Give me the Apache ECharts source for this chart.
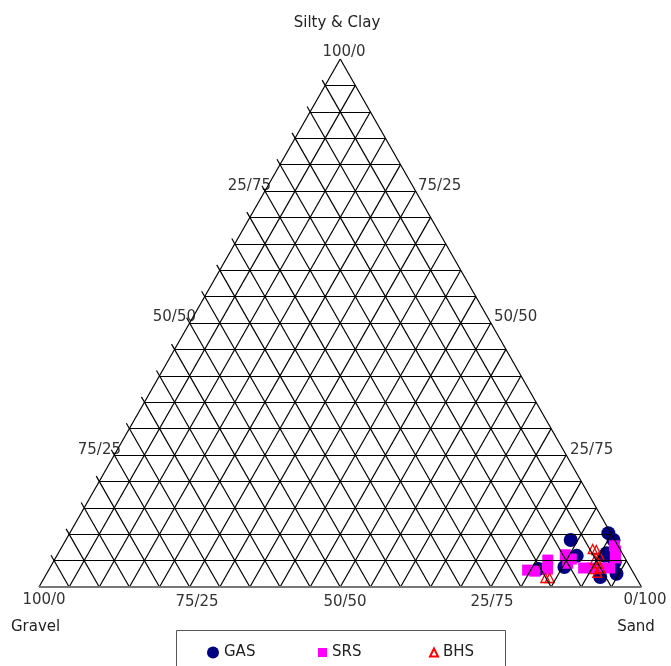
<!DOCTYPE html>
<html>
<head>
<meta charset="utf-8">
<script src="https://cdn.jsdelivr.net/npm/echarts@6/dist/echarts.min.js"></script>
<style>
  html, body { margin: 0; padding: 0; background: #fff; }
  #chart { width: 671px; height: 666px; }
</style>
</head>
<body>
<div id="chart"></div>
<script>
// 各点：[Gravel, Silty & Clay, Sand] (%)
const gasData = [
    [0.4, 10.2, 89.4], [0.2, 8.9, 90.9], [2.6, 6.4, 91.0], [2.1, 4.7, 93.2],
    [2.9, 2.5, 94.6], [5.9, 1.9, 92.2], [7.3, 8.9, 83.8], [7.8, 5.9, 86.3],
    [10.9, 3.8, 85.3], [15.4, 3.4, 81.2], [3.2, 5.9, 90.9]
];
const srsData = [
    [17.3, 3.2, 79.5], [16.2, 3.0, 80.8], [13.0, 5.1, 81.9], [13.9, 3.4, 82.7],
    [9.6, 6.1, 84.3], [10.0, 4.5, 85.5], [9.0, 5.3, 85.7], [7.8, 3.6, 88.6],
    [6.3, 3.6, 90.1], [5.0, 3.6, 91.4], [3.5, 3.6, 92.9], [0.9, 6.8, 92.3],
    [1.6, 5.5, 92.9], [0.6, 7.8, 91.6]
];
const bhsData = [
    [15.1, 1.7, 83.2], [14.4, 1.7, 83.9], [4.5, 7.2, 88.3], [4.0, 7.0, 89.0],
    [4.0, 5.9, 90.1], [5.2, 5.1, 89.7], [4.9, 4.5, 90.6], [6.1, 3.4, 90.5],
    [5.0, 3.6, 91.4], [6.0, 2.7, 91.3]
];
const seriesNames = ['GAS', 'SRS', 'BHS'];
const divisions = 20;

// 三角坐标 -> 直角坐标 (0..1)
function toXY(g, s, d) {
    const sum = g + s + d;
    return [(d + s / 2) / sum, s / sum];
}

// 网格线
const gridLines = [];
for (let i = 1; i < divisions; i++) {
    const k = i / divisions;
    // 水平线 (Silty & Clay 常数)
    gridLines.push({ coords: [toXY(1 - k, k, 0), toXY(0, k, 1 - k)] });
    // Sand 常数
    gridLines.push({ coords: [toXY(1 - k, 0, k), toXY(0, 1 - k, k)] });
    // Gravel 常数，稍微伸出左边
    gridLines.push({ coords: [toXY(k, 0, 1 - k), [(-0.01 + (1 - k + 0.01) / 2), 1 - k + 0.01]] });
}
const edgeLines = [
    { coords: [toXY(1, 0, 0), toXY(0, 1, 0)] },
    { coords: [toXY(0, 1, 0), toXY(0, 0, 1)] }
];

const chart = echarts.init(document.getElementById('chart'));

const tickFont = '15px "DejaVu Sans", sans-serif';
const titleFont = '15px "DejaVu Sans", sans-serif';

function txt(text, x, y, align, font, color) {
    return {
        type: 'text',
        x: x,
        y: y,
        silent: true,
        style: {
            text: text,
            font: font || tickFont,
            fill: color || '#333',
            align: align || 'center',
            verticalAlign: 'middle'
        }
    };
}

const legendBase = {
    top: 645,
    padding: 0,
    selectedMode: false,
    textStyle: { color: '#222', fontSize: 15, fontFamily: 'DejaVu Sans' }
};

const option = {
    animation: false,
    grid: { left: 39, right: 29.5, top: 59, bottom: 79 },
    xAxis: { type: 'value', min: 0, max: 1, show: false },
    yAxis: { type: 'value', min: 0, max: 1, show: false },
    legend: [
        Object.assign({}, legendBase, { data: ['GAS'], left: 207, itemWidth: 12, itemHeight: 12 }),
        Object.assign({}, legendBase, { data: ['SRS'], left: 318, itemWidth: 9, itemHeight: 9 }),
        Object.assign({}, legendBase, { data: ['BHS'], left: 429, itemWidth: 8, itemHeight: 8 })
    ],
    graphic: [
        txt('Silty & Clay', 337, 23, 'center', titleFont, '#222'),
        txt('Gravel', 11, 627, 'left', titleFont, '#222'),
        txt('Sand', 636, 627, 'center', titleFont, '#222'),
        txt('100/0', 344, 52),
        txt('25/75', 271, 186, 'right'),
        txt('50/50', 196, 317, 'right'),
        txt('75/25', 121, 450, 'right'),
        txt('75/25', 418, 186, 'left'),
        txt('50/50', 494, 317, 'left'),
        txt('25/75', 570, 450, 'left'),
        txt('100/0', 44, 600),
        txt('75/25', 197, 602),
        txt('50/50', 345, 602),
        txt('25/75', 492, 602),
        txt('0/100', 645, 600),
        {
            type: 'rect',
            silent: true,
            shape: { x: 176.5, y: 630.5, width: 329, height: 60 },
            style: { fill: 'none', stroke: '#555', lineWidth: 1 }
        }
    ],
    series: [
        {
            name: 'GAS',
            type: 'scatter',
            symbol: 'circle',
            symbolSize: 14,
            itemStyle: { color: '#000080', opacity: 1 },
            data: gasData.map(p => toXY(p[0], p[1], p[2]))
        },
        {
            name: 'SRS',
            type: 'scatter',
            symbol: 'rect',
            symbolSize: 11,
            itemStyle: { color: '#ff00ff', opacity: 1 },
            data: srsData.map(p => toXY(p[0], p[1], p[2]))
        },
        {
            name: 'BHS',
            type: 'scatter',
            symbol: 'triangle',
            symbolSize: 9,
            itemStyle: { color: 'rgba(255,255,255,0)', borderColor: '#ff0000', borderWidth: 1.3, opacity: 1 },
            data: bhsData.map(p => toXY(p[0], p[1], p[2]))
        },
        {
            type: 'lines',
            coordinateSystem: 'cartesian2d',
            silent: true,
            z: 5,
            lineStyle: { color: '#000', width: 1.2, opacity: 1 },
            data: gridLines.concat(edgeLines)
        },
        {
            type: 'lines',
            coordinateSystem: 'cartesian2d',
            silent: true,
            z: 6,
            lineStyle: { color: '#777', width: 2, opacity: 1 },
            data: [{ coords: [toXY(1, 0, 0), toXY(0, 0, 1)] }]
        }
    ]
};

chart.setOption(option);

window.addEventListener('resize', () => {
    chart.resize();
});
</script>
</body>
</html>
